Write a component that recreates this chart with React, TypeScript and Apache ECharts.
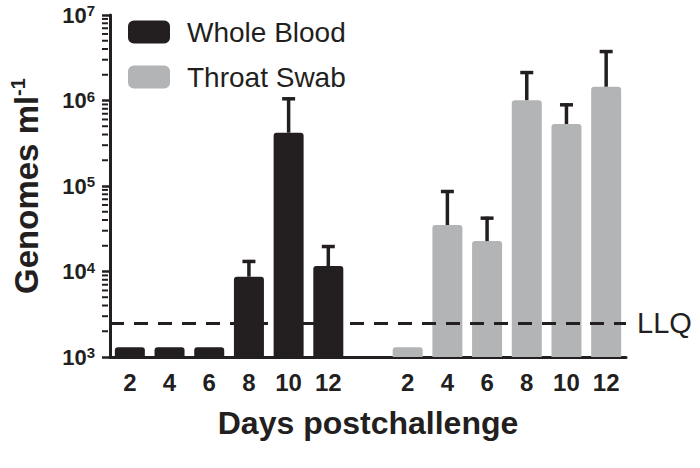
import React, { useEffect, useRef } from "react";
import * as echarts from "echarts";

const categories = ["2", "4", "6", "8", "10", "12", "", "2", "4", "6", "8", "10", "12"];
const wholeBlood = [1300, 1300, 1300, 8690, 420000, 11590, "-", "-", "-", "-", "-", "-", "-"];
const wholeBloodUpper = [null, null, null, 13650, 1090000, 20400, null, null, null, null, null, null, null];
const throatSwab = ["-", "-", "-", "-", "-", "-", "-", 1300, 35000, 22700, 1010000, 531000, 1450000];
const throatSwabUpper = [null, null, null, null, null, null, null, null, 89800, 43800, 2210000, 927000, 3890000];
const llq = 2500;
const yTickExponents = [3, 4, 5, 6, 7];
const minorMultipliers = [2, 3, 4, 5, 6, 7, 8, 9];

const INK = "#231f20";
const GREY = "#b3b4b6";
const FONT = "Liberation Sans, Arial, sans-serif";
const Y_MIN = 1000;
const Y_MAX = 10000000;

function errorData(means: any[], uppers: any[]) {
  const out: number[][] = [];
  means.forEach((m, i) => {
    if (typeof m === "number" && uppers[i] != null) out.push([i, m, uppers[i]]);
  });
  return out;
}

function minorTickData() {
  const out: number[][] = [];
  for (let i = 0; i < yTickExponents.length - 1; i++) {
    minorMultipliers.forEach((k) => out.push([0.5, k * Math.pow(10, yTickExponents[i])]));
  }
  return out;
}

const errorRender = (params: any, api: any) => {
  const base = api.coord([api.value(0), api.value(1)]);
  const top = api.coord([api.value(0), api.value(2)]);
  const x = base[0];
  const half = 6.5;
  return {
    type: "group",
    children: [
      { type: "line", shape: { x1: x, y1: base[1], x2: x, y2: top[1] }, style: { stroke: INK, lineWidth: 3.5 } },
      { type: "line", shape: { x1: x - half, y1: top[1] + 1.5, x2: x + half, y2: top[1] + 1.5 }, style: { stroke: INK, lineWidth: 3.5 } },
    ],
  };
};

export default function App() {
  const ref = useRef<HTMLDivElement>(null);
  useEffect(() => {
    if (!ref.current) return;
    const chart = echarts.init(ref.current, undefined, { renderer: "svg" });
    chart.setOption({
      animation: false,
      backgroundColor: "#ffffff",
      textStyle: { fontFamily: FONT },
      grid: [
        { left: 108, right: 74, top: 15, bottom: 111, containLabel: false },
        { left: 102, width: 6, top: 15, bottom: 111, containLabel: false, show: false },
      ],
      legend: {
        data: ["Whole Blood", "Throat Swab"],
        orient: "vertical",
        left: 123,
        top: 13,
        itemWidth: 42,
        itemHeight: 23,
        itemGap: 17,
        icon: "roundRect",
        textStyle: { fontSize: 28, color: INK, fontFamily: FONT, padding: [0, 0, 0, 12] },
      },
      xAxis: [
        {
          type: "category",
          gridIndex: 0,
          data: categories,
          name: "Days postchallenge",
          nameLocation: "middle",
          nameGap: 50,
          nameTextStyle: { fontSize: 32, fontWeight: "bold", color: INK, fontFamily: FONT },
          axisLine: { lineStyle: { color: INK, width: 3 } },
          axisTick: { alignWithLabel: true, interval: 0, length: 8, lineStyle: { color: INK, width: 2.5 } },
          axisLabel: { interval: 0, fontSize: 24, fontWeight: "bold", color: INK, margin: 13, fontFamily: FONT },
          splitLine: { show: false },
        },
        { type: "value", gridIndex: 1, min: 0, max: 1, show: false },
      ],
      yAxis: [
        {
          type: "log",
          gridIndex: 0,
          logBase: 10,
          min: Y_MIN,
          max: Y_MAX,
          name: "{a|Genomes ml}{s|-1}",
          nameLocation: "middle",
          nameRotate: 90,
          nameGap: 66,
          nameTextStyle: {
            rich: {
              a: { fontSize: 33, fontWeight: "bold", color: INK, fontFamily: FONT, lineHeight: 36 },
              s: { fontSize: 20, fontWeight: "bold", color: INK, fontFamily: FONT, verticalAlign: "top", lineHeight: 36 },
            },
          },
          axisLine: { show: true, lineStyle: { color: INK, width: 3 } },
          axisTick: { show: true, length: 8, lineStyle: { color: INK, width: 2.5 } },
          splitLine: { show: false },
          axisLabel: {
            margin: 15,
            formatter: (v: number) => `{b|10}{s|${Math.round(Math.log10(v))}}`,
            rich: {
              b: { fontSize: 22, fontWeight: "bold", color: INK, fontFamily: FONT, lineHeight: 24 },
              s: { fontSize: 15, fontWeight: "bold", color: INK, fontFamily: FONT, verticalAlign: "top", lineHeight: 24 },
            },
          },
        },
        { type: "log", gridIndex: 1, logBase: 10, min: Y_MIN, max: Y_MAX, show: false },
      ],
      series: [
        {
          name: "Whole Blood",
          type: "bar",
          data: wholeBlood,
          barWidth: 30,
          barGap: "-100%",
          itemStyle: { color: INK, borderRadius: [3, 3, 0, 0] },
          z: 2,
          markLine: {
            silent: true,
            symbol: "none",
            z: 5,
            data: [{ yAxis: llq }],
            lineStyle: { color: INK, width: 3, type: [14, 10] },
            label: { show: true, position: "end", formatter: "LLQ", fontSize: 29, color: INK, fontFamily: FONT, distance: 11 },
          },
        },
        {
          name: "Throat Swab",
          type: "bar",
          data: throatSwab,
          barWidth: 30,
          barGap: "-100%",
          itemStyle: { color: GREY, borderRadius: [3, 3, 0, 0] },
          z: 2,
        },
        {
          type: "custom",
          renderItem: errorRender,
          data: errorData(wholeBlood, wholeBloodUpper),
          encode: { x: 0, y: [1, 2] },
          z: 3,
          silent: true,
        },
        {
          type: "custom",
          renderItem: errorRender,
          data: errorData(throatSwab, throatSwabUpper),
          encode: { x: 0, y: [1, 2] },
          z: 3,
          silent: true,
        },
        {
          type: "scatter",
          xAxisIndex: 1,
          yAxisIndex: 1,
          data: minorTickData(),
          symbol: "rect",
          symbolSize: [6, 2],
          itemStyle: { color: INK, opacity: 1 },
          clip: false,
          z: 6,
          silent: true,
        },
      ],
    });
    return () => chart.dispose();
  }, []);
  return <div ref={ref} style={{ width: 700, height: 468, position: "fixed", left: 0, top: 0 }} />;
}
